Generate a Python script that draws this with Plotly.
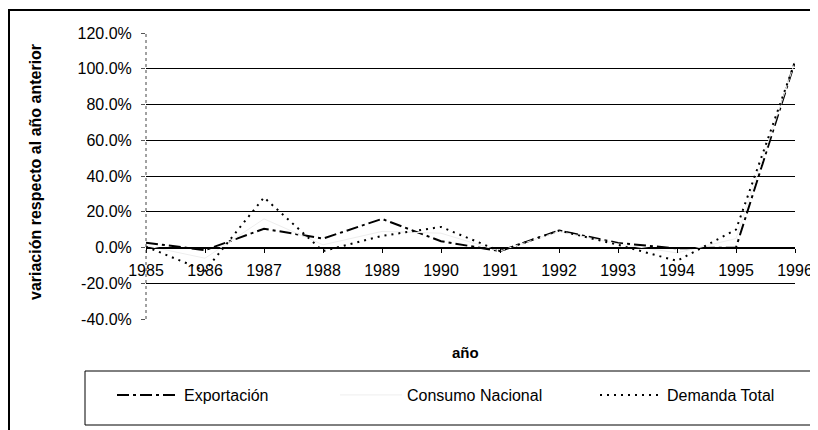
import plotly.graph_objects as go

years = [1985, 1986, 1987, 1988, 1989, 1990, 1991, 1992, 1993, 1994, 1995, 1996]
exportacion = [2.7, -1.5, 10.5, 5.0, 16.0, 3.5, -2.0, 9.5, 2.5, -0.5, 0.0, 104.0]
consumo_nacional = [1.0, -6.0, 16.0, 1.5, 9.0, 8.0, -2.0, 9.0, 2.0, -3.0, 5.0, 104.0]
demanda_total = [0.5, -13.0, 28.0, -2.0, 6.5, 11.5, -2.0, 9.5, 1.5, -7.5, 10.0, 104.0]

y_tickvals = [-40, -20, 0, 20, 40, 60, 80, 100, 120]
y_ticktext = ["-40.0%", "-20.0%", "0.0%", "20.0%", "40.0%", "60.0%", "80.0%", "100.0%", "120.0%"]

FONT = "Liberation Sans, Arial, sans-serif"

W, H = 818, 430
OFF = 8  # page body margin offset
# plot area in screenshot pixels: x 146..795, y 33..319
ml = 146 - OFF
mt = 33 - OFF
mr = W - (795 - OFF)
mb = H - (319 - OFF)
pw, ph = W - ml - mr, H - mt - mb

def px(xp):
    return (xp - OFF - ml) / pw

def py(yp):
    return (H - mb - (yp - OFF)) / ph

fig = go.Figure()
fig.add_trace(go.Scatter(x=years, y=exportacion, name="Exportación", mode="lines",
                         legend="legend",
                         line=dict(color="black", width=2, dash="12px,4px,3px,4px")))
fig.add_trace(go.Scatter(x=years, y=consumo_nacional, name="Consumo Nacional", mode="lines",
                         legend="legend2",
                         line=dict(color="#eeeeee", width=1)))
fig.add_trace(go.Scatter(x=years, y=demanda_total, name="Demanda Total", mode="lines",
                         legend="legend3",
                         line=dict(color="black", width=2, dash="2px,5px")))

def leg(xpix):
    return dict(xref="container", yref="container", x=(xpix - OFF) / W, y=1 - (395 - OFF) / H,
                xanchor="left", yanchor="middle", orientation="h",
                bgcolor="rgba(0,0,0,0)", borderwidth=0, itemwidth=62,
                font=dict(family=FONT, size=16, color="black"))

fig.update_layout(
    width=W, height=H,
    margin=dict(l=ml, r=mr, t=mt, b=mb, autoexpand=False),
    paper_bgcolor="white", plot_bgcolor="white",
    font=dict(family=FONT, size=16, color="black"),
    showlegend=True,
    legend=leg(112),
    legend2=leg(335),
    legend3=leg(595),
    xaxis=dict(range=[1985, 1996], tickvals=years, ticktext=[str(v) for v in years],
               anchor="free", position=0.25, showline=True, linecolor="black", linewidth=1,
               ticks="outside", ticklen=4, tickcolor="black", showgrid=False, zeroline=False,
               ticklabelstandoff=4,
               tickfont=dict(family=FONT, size=16)),
    yaxis=dict(range=[-40, 120], tickvals=y_tickvals, ticktext=y_ticktext,
               showgrid=True, gridcolor="black", gridwidth=1, zeroline=False,
               showline=False, ticks="outside", ticklen=4, tickcolor="#555",
               ticklabelstandoff=6,
               tickfont=dict(family=FONT, size=16)),
    shapes=[
        dict(type="line", xref="paper", yref="paper", x0=0, x1=0, y0=0, y1=1,
             line=dict(color="#444", width=1, dash="dot")),
        dict(type="rect", xref="paper", yref="paper", x0=px(85), x1=px(816), y0=py(425), y1=py(371),
             line=dict(color="black", width=1)),
        dict(type="rect", xref="paper", yref="paper", x0=px(9), x1=px(840), y0=py(450), y1=py(10),
             line=dict(color="black", width=2)),
    ],
    annotations=[
        dict(text="<b>variación respecto al año anterior</b>", xref="paper", yref="paper",
             x=px(35), y=py(172), xanchor="center", yanchor="middle", textangle=-90,
             showarrow=False, font=dict(family=FONT, size=16)),
        dict(text="<b>año</b>", xref="paper", yref="paper", x=px(465), y=py(352),
             xanchor="center", yanchor="middle",
             showarrow=False, font=dict(family=FONT, size=15)),
    ],
)

fig.write_html("out.html")
